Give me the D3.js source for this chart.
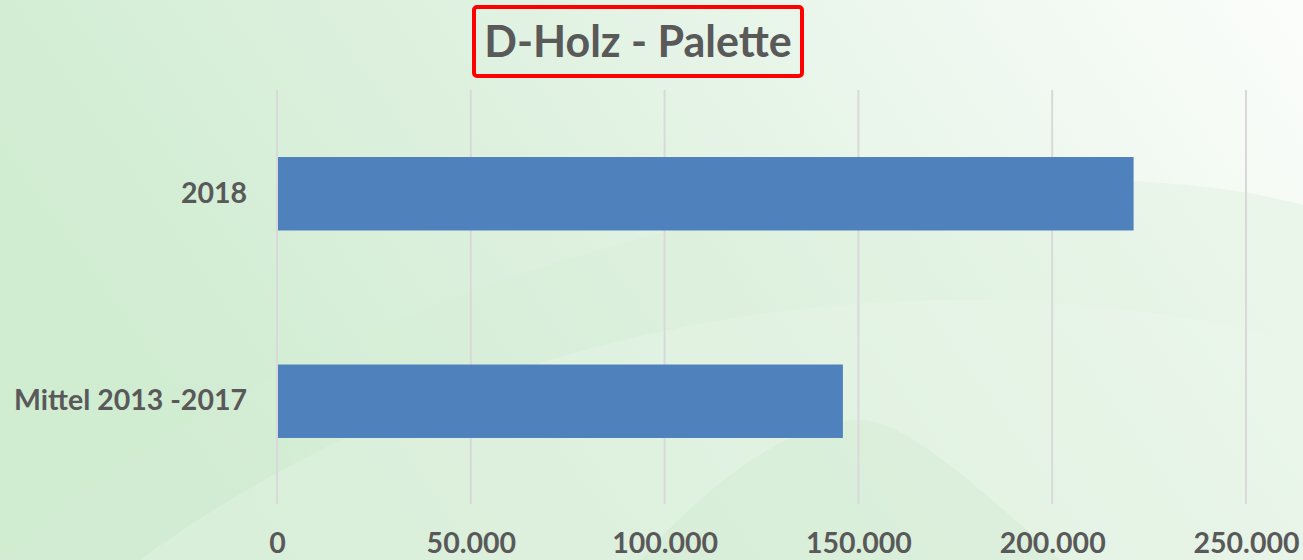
<!DOCTYPE html>
<html>
<head>
<meta charset="utf-8">
<script src="https://cdn.jsdelivr.net/npm/d3@7"></script>
<style>
  html, body { margin: 0; padding: 0; overflow: hidden; }
  body { width: 1303px; height: 560px; }
  text { font-family: Lato, "Open Sans", sans-serif; font-weight: bold; fill: #595959; }
</style>
</head>
<body>
<script>
// chart data
var categories = ["2018", "Mittel 2013 -2017"];
var values = [221000, 146000];
var tickValues = [0, 50000, 100000, 150000, 200000, 250000];
var title = "D-Holz - Palette";

var W = 1303, H = 560;
var margin = {top: 90, right: 57, bottom: 55, left: 277};

var svg = d3.select("body").append("svg")
    .attr("width", W)
    .attr("height", H);

// background gradient
var defs = svg.append("defs");
var grad = defs.append("linearGradient")
    .attr("id", "bg")
    .attr("x1", "0").attr("y1", "0.3")
    .attr("x2", "1").attr("y2", "0");
grad.append("stop").attr("offset", "0%").attr("stop-color", "#d0ecd1");
grad.append("stop").attr("offset", "45%").attr("stop-color", "#e1f2e2");
grad.append("stop").attr("offset", "100%").attr("stop-color", "#fbfdfb");

svg.append("rect")
    .attr("width", W).attr("height", H)
    .attr("fill", "url(#bg)");

// decorative swooshes
var deco = svg.append("g");
deco.append("path")
    .attr("d", "M140,560 C330,420 620,300 960,300 C1100,300 1220,320 1303,345 L1303,560 Z")
    .attr("fill", "#ffffff").attr("opacity", 0.22);
deco.append("path")
    .attr("d", "M0,560 C250,330 700,190 1010,180 C1150,176 1250,190 1303,205 L1303,560 Z")
    .attr("fill", "#d6efd7").attr("opacity", 0.35);
deco.append("path")
    .attr("d", "M640,560 C720,470 800,420 860,420 C900,420 960,470 1060,560 Z")
    .attr("fill", "#d2ecd3").attr("opacity", 0.45);

var x = d3.scaleLinear()
    .domain([0, 250000])
    .range([margin.left, W - margin.right]);

var y = d3.scaleBand()
    .domain(categories)
    .range([margin.top, 505])
    .paddingInner(0.646)
    .paddingOuter(0.323);

// gridlines
svg.append("g")
    .selectAll("line")
    .data(tickValues)
    .enter().append("line")
    .attr("x1", function(d) { return x(d); })
    .attr("x2", function(d) { return x(d); })
    .attr("y1", margin.top)
    .attr("y2", 504)
    .attr("stroke", "#d9d9d9")
    .attr("stroke-width", 2);

// bars
svg.append("g")
    .selectAll("rect")
    .data(values)
    .enter().append("rect")
    .attr("x", x(0) + 1)
    .attr("y", function(d, i) { return y(categories[i]); })
    .attr("width", function(d) { return x(d) - x(0) - 1; })
    .attr("height", y.bandwidth())
    .attr("fill", "#4f81bd");

// x axis labels
var fmt = function(d) { return d3.format(",")(d).replace(/,/g, "."); };
var xAxis = svg.append("g")
    .attr("transform", "translate(0,527)")
    .call(d3.axisBottom(x).tickValues(tickValues).tickFormat(fmt).tickSize(0).tickPadding(0));
xAxis.select(".domain").remove();
xAxis.selectAll("text")
    .attr("font-size", 28.5)
    .style("font-family", "Lato, sans-serif")
    .style("font-weight", "bold")
    .attr("fill", "#595959")
    .attr("dy", "0.9em");

// y axis labels
var yAxis = svg.append("g")
    .attr("transform", "translate(247,0)")
    .call(d3.axisLeft(y).tickSize(0).tickPadding(0));
yAxis.select(".domain").remove();
yAxis.selectAll("text")
    .attr("font-size", 28.5)
    .style("font-family", "Lato, sans-serif")
    .style("font-weight", "bold")
    .attr("fill", "#595959");

// title with red box
svg.append("rect")
    .attr("x", 474).attr("y", 7)
    .attr("width", 328).attr("height", 69)
    .attr("rx", 3)
    .attr("fill", "none")
    .attr("stroke", "#ff0000")
    .attr("stroke-width", 4);

svg.append("text")
    .attr("x", 638)
    .attr("y", 57)
    .attr("text-anchor", "middle")
    .attr("font-size", 43)
    .text(title);
</script>
</body>
</html>
